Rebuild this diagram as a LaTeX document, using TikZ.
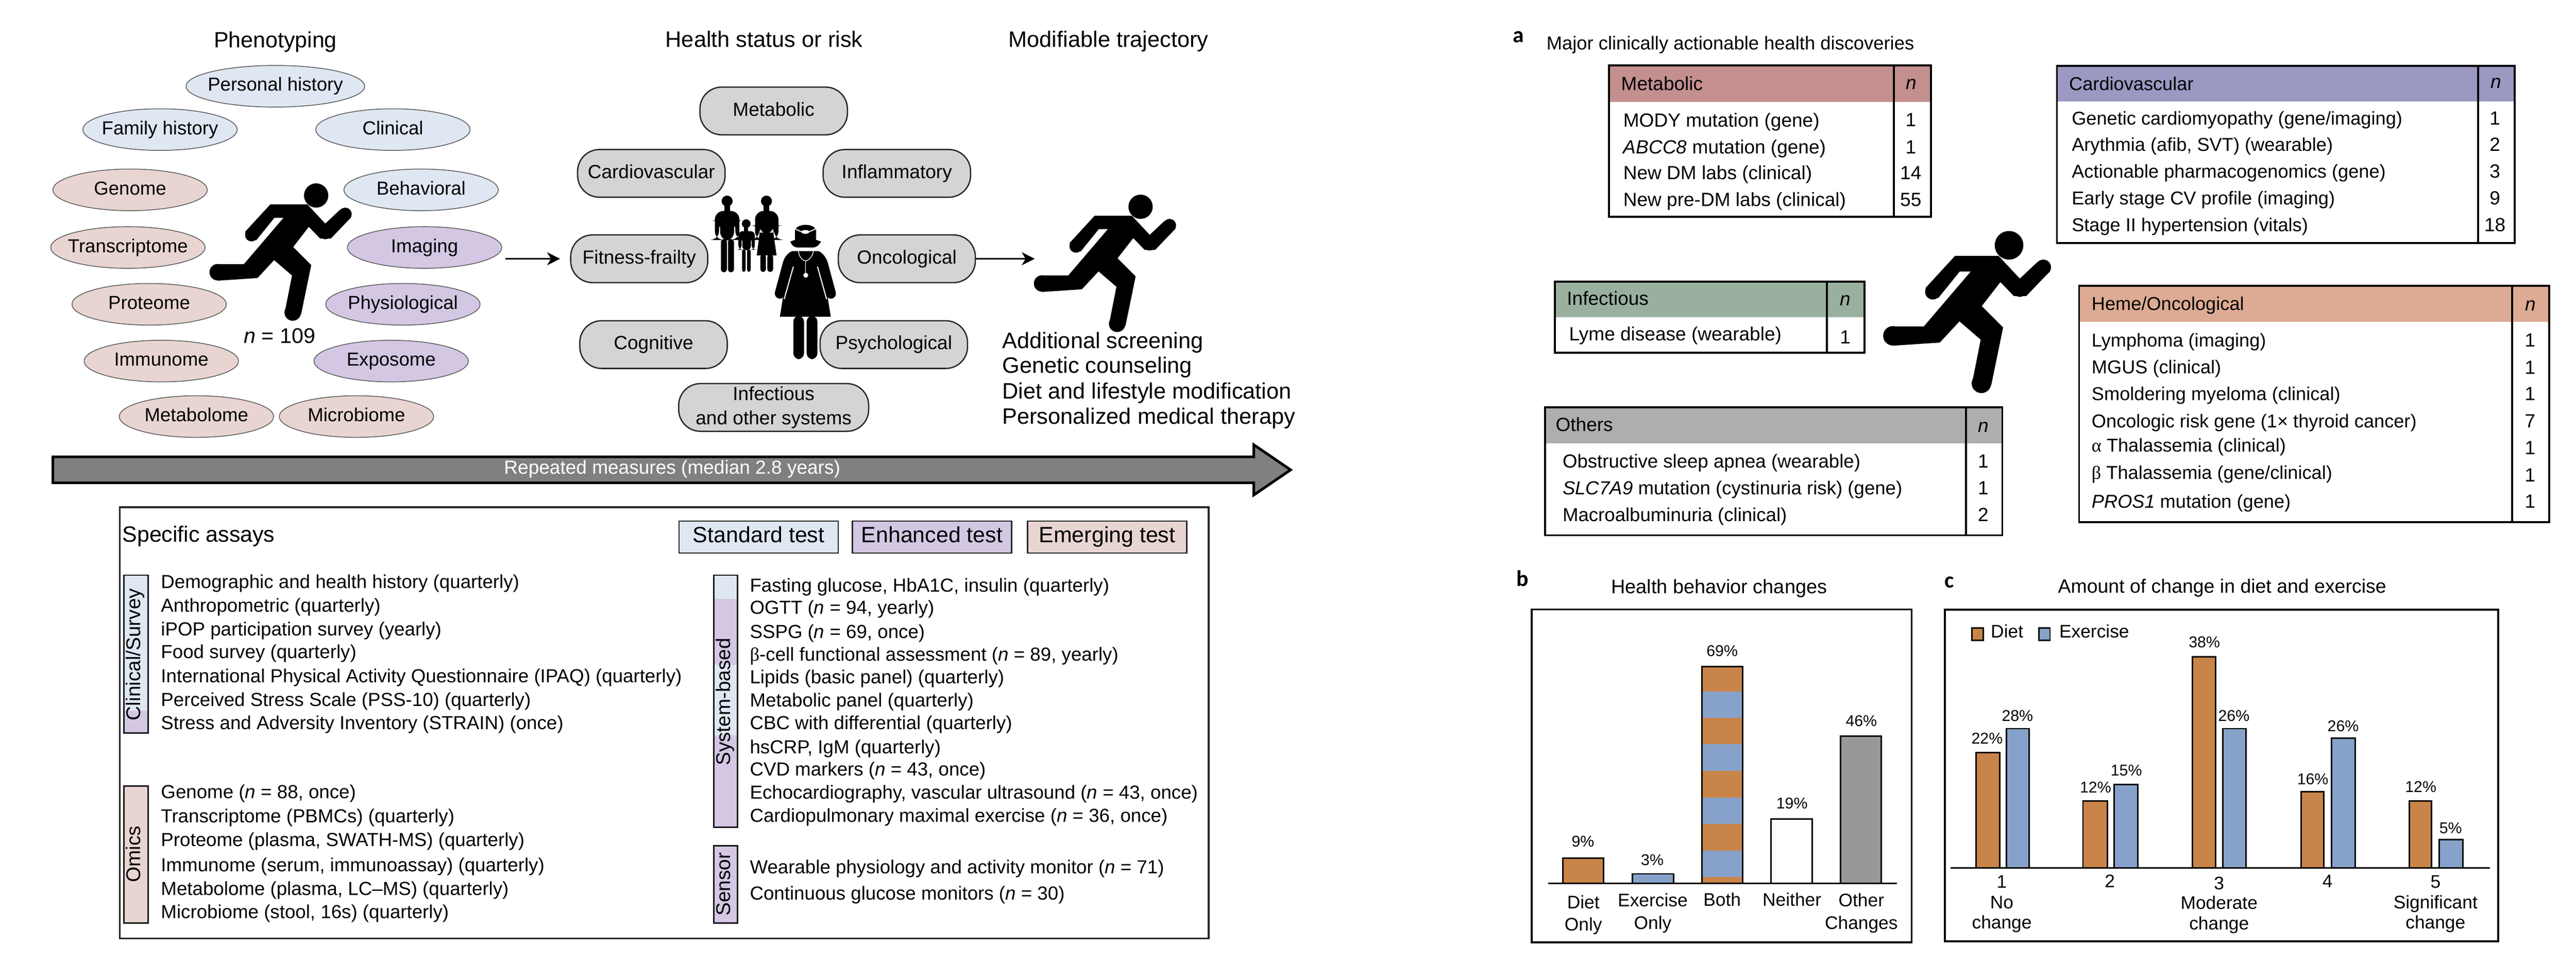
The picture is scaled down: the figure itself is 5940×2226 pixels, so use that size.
\documentclass[tikz,border=0pt]{standalone}
\usepackage{fontspec}
\setmainfont{Liberation Sans}
\newfontfamily\grkfont{Liberation Serif}
\newfontfamily\panelfont{Carlito}
\usetikzlibrary{shapes.geometric,arrows.meta}
\definecolor{stdc}{HTML}{DFE7F2}
\definecolor{enhc}{HTML}{D3C7E4}
\definecolor{emgc}{HTML}{E8D5D2}
\definecolor{rrc}{HTML}{D4D4D4}
\definecolor{ora}{HTML}{C98449}
\definecolor{blu}{HTML}{86A2CA}
\definecolor{gry}{HTML}{989898}
\definecolor{hmet}{HTML}{C48F8F}
\definecolor{hcar}{HTML}{9B98C2}
\definecolor{hinf}{HTML}{9AB09F}
\definecolor{hoth}{HTML}{AEAEAE}
\definecolor{hhem}{HTML}{DDAB93}
\tikzset{
  tx/.style={font=\fontsize{#1pt}{#1pt}\selectfont,inner sep=0pt,
    execute at begin node={\rule[-.21em]{0pt}{.93em}}},
  lft/.style={tx=#1,anchor=west},
  ell/.style={ellipse,draw=black!65,line width=1.8,inner sep=0pt,minimum width=356,minimum height=96,tx=43.5},
  rr/.style={rectangle,rounded corners=50,draw=black!85,fill=rrc,line width=3,inner sep=0pt,minimum width=340,minimum height=110,tx=44},
  legbox/.style={rectangle,draw=black!85,line width=3,inner sep=0pt,minimum width=367,minimum height=74,tx=51},
  barfr/.style={draw=black!90,line width=3.5},
  tline/.style={draw=black,line width=4.5},
  sm/.style={draw=black,line width=3.5},
  flow/.style={draw=black,line width=4,-{Stealth[length=30pt,width=30pt,inset=9pt]}},
  pl/.style={tx=52,font=\fontsize{52pt}{52pt}\selectfont\panelfont\bfseries}
}
\newcommand\et[1]{\makebox[0pt][c]{#1}}
\newcommand\myrunner[3]{%
  \begin{scope}[shift={(#1,#2)},scale=#3]
    \fill (729,451) circle (28);
    \filldraw[line width=3,line join=round]
      (624,473)--(708,473)--(750,518)--(785,485)--(808,501)--(762,549)--(739,549)--(712,521)--(674,570)
      --(716,612)--(693,724)--(658,721)--(675,635)--(632,598)--(593,640)--(502,646)--(502,611)--(563,611)
      --(657,501)--(632,501)--(590,553)--(567,535)--cycle;
    \fill (796,494) circle (15) (750,539) circle (13) (675,721) circle (19) (502,628) circle (19) (580,542) circle (15);
  \end{scope}}
\newcommand\mytable[7]{%
  \fill[#7] (#1,#2) rectangle (#3,#5);
  \draw[tline] (#1,#2) rectangle (#3,#4);
  \draw[tline] (#6,#2) -- (#6,#4);}
\begin{document}
\begin{tikzpicture}[x=1pt,y=-1pt]
\useasboundingbox (0,0) rectangle (5940,2226);

% ---------- headings
\node[tx=51] (hPhen) at (635,97) {Phenotyping};
\node[tx=51.5] (hHeal) at (1762,95) {Health status or risk};
\node[tx=51.5] (hMod) at (2556,96) {Modifiable trajectory};

% ---------- phenotyping ellipses
\node[ell,fill=stdc,minimum width=412] (ePers) at (635,199) {\et{Personal history}};
\node[ell,fill=stdc] (eFam) at (369,299) {\et{Family history}};
\node[ell,fill=stdc] (eClin) at (906,299) {\et{Clinical}};
\node[ell,fill=emgc] (eGen) at (300,438) {\et{Genome}};
\node[ell,fill=stdc] (eBeh) at (971,438) {\et{Behavioral}};
\node[ell,fill=emgc] (eTra) at (295,571) {\et{Transcriptome}};
\node[ell,fill=enhc] (eIma) at (979,571) {\et{Imaging}};
\node[ell,fill=emgc] (ePro) at (344,702) {\et{Proteome}};
\node[ell,fill=enhc] (ePhy) at (929,702) {\et{Physiological}};
\node[ell,fill=emgc] (eImm) at (372,833) {\et{Immunome}};
\node[ell,fill=enhc] (eExp) at (902,833) {\et{Exposome}};
\node[ell,fill=emgc] (eMet) at (453,961) {\et{Metabolome}};
\node[ell,fill=emgc] (eMic) at (822,961) {\et{Microbiome}};

\myrunner{0}{0}{1}
\node[tx=49] (nRun) at (645,779) {\textit{n} = 109};

% ---------- health status nodes
\node[rr] (rMet) at (1784,256) {Metabolic};
\node[rr] (rCar) at (1502,400) {Cardiovascular};
\node[rr] (rInf) at (2068,400) {Inflammatory};
\node[rr,minimum width=316] (rFit) at (1474,597) {Fitness-frailty};
\node[rr,minimum width=316] (rOnc) at (2091,597) {Oncological};
\node[rr] (rCog) at (1507,795) {Cognitive};
\node[rr] (rPsy) at (2061,795) {Psychological};
\node[rr,minimum width=438,align=center,font=\fontsize{44pt}{56pt}\selectfont] (rOth) at (1784,940) {Infectious\\and other systems};

% ---------- family
\begin{scope}[shift={(1630,440)},scale=.33333]
  % man
  \fill (140,72) circle (38);
  \fill (120,100) rectangle (160,145);
  \fill[rounded corners=20] (55,340)--(55,140)--(225,140)--(225,340)--(197,340)--(197,205)--(188,205)--(188,345)--(92,345)--(92,205)--(84,205)--(84,340)--cycle;
  \fill[rounded corners=6] (97,335) rectangle (138,564);
  \fill[rounded corners=6] (146,335) rectangle (187,564);
  % woman
  \fill (412,72) circle (38);
  \fill (392,100) rectangle (432,145);
  \fill[rounded corners=20] (333,340)--(333,140)--(495,140)--(495,340)--(467,340)--(467,240)--(460,240)--(460,300)--(365,300)--(365,240)--(360,240)--(360,340)--cycle;
  \fill (365,290)--(460,290)--(482,448)--(345,448)--cycle;
  \fill[rounded corners=6] (370,440) rectangle (408,562);
  \fill[rounded corners=6] (418,440) rectangle (458,562);
  % child
  \fill (272,228) circle (30);
  \fill (258,250) rectangle (286,285);
  \fill[rounded corners=10] (218,408)--(218,280)--(332,280)--(332,408)--(310,408)--(310,320)--(305,320)--(305,412)--(245,412)--(245,320)--(240,320)--(240,408)--cycle;
  \fill[rounded corners=5] (243,405) rectangle (268,562);
  \fill[rounded corners=5] (278,405) rectangle (303,562);
  % physician
  \fill (610,340)--(610,270) .. controls (630,225) and (735,225) .. (755,270)--(755,340)--(790,352) .. controls (770,385) and (750,393) .. (735,393)--(628,393) .. controls (610,393) and (590,385) .. (577,352)--cycle;
  \draw[white,line width=2.2] (610,265)--(680,295)--(752,265);
  \fill[white] (681,285) ellipse (28 and 13);
  \fill (590,418) .. controls (560,430) and (535,460) .. (525,500)--(470,705) .. controls (465,745) and (515,760) .. (527,735)--(505,872)--(857,872)--(835,735) .. controls (850,760) and (898,745) .. (892,705)--(837,500) .. controls (825,460) and (800,430) .. (772,418)--cycle;
  \draw[white,line width=2.5] (598,525)--(535,750);
  \draw[white,line width=2.5] (765,525)--(828,750);
  \fill[rounded corners=14] (598,865) rectangle (672,1166);
  \fill[rounded corners=14] (690,865) rectangle (765,1166);
  \draw[white,line width=1.6] (633,405) .. controls (630,450) and (660,485) .. (683,485) .. controls (705,485) and (738,450) .. (738,405);
  \draw[white,line width=1.6] (683,485)--(683,575);
  \fill[white] (684,585) circle (17);
\end{scope}

% ---------- flow arrows
\coordinate (aIn) at (1165,597);
\coordinate (aOut) at (2386,597);
\draw[flow,shorten >=23pt] (aIn) -- (rFit.west);
\draw[flow] (rOnc.east) -- (aOut);
\myrunner{1901}{26}{1}

\node[lft=51.5] (tAct1) at (2311,790) {Additional screening};
\node[lft=51.5] (tAct2) at (2311,848) {Genetic counseling};
\node[lft=51.5] (tAct3) at (2311,907) {Diet and lifestyle modification};
\node[lft=51.5] (tAct4) at (2311,965) {Personalized medical therapy};

% ---------- timeline bar
\filldraw[draw=black,fill=black!50,line width=6,miter limit=10]
  (122,1054)--(2891,1054)--(2891,1026)--(2976,1084)--(2891,1142)--(2891,1114)--(122,1114)--cycle;
\node[tx=44,text=white] (tBar) at (1550,1082) {Repeated measures (median 2.8 years)};

% ---------- assays box
\draw[draw=black!85,line width=4] (276,1170) rectangle (2787,2165);
\node[lft=51] (tAss) at (282,1237) {Specific assays};
\node[legbox,fill=stdc] (lStd) at (1749.5,1239) {Standard test};
\node[legbox,fill=enhc] (lEnh) at (2149,1239) {Enhanced test};
\node[legbox,fill=emgc] (lEme) at (2553,1239) {Emerging test};

% side bars
\fill[stdc] (286,1327) rectangle (341,1640);
\fill[enhc] (286,1640) rectangle (341,1691);
\draw[barfr] (286,1327) rectangle (341,1691);
\node[tx=46,rotate=90] (sCli) at (312,1510) {Clinical/Survey};
\draw[barfr,fill=emgc] (286,1814) rectangle (341,2129);
\node[tx=46,rotate=90] (sOmi) at (312,1971) {Omics};
\fill[enhc] (1646,1327) rectangle (1701,1909);
\fill[stdc] (1646,1327) rectangle (1701,1382);
\fill[stdc] (1646,1534) rectangle (1701,1697);
\draw[barfr] (1646,1327) rectangle (1701,1909);
\node[tx=46,rotate=90] (sSys) at (1672,1619) {System-based};
\draw[barfr,fill=enhc] (1646,1951) rectangle (1701,2129);
\node[tx=46,rotate=90] (sSen) at (1672,2040) {Sensor};

% assay rows
\foreach \y/\t [count=\i] in {
 1346/{Demographic and health history (quarterly)},
 1401/{Anthropometric (quarterly)},
 1455/{iPOP participation survey (yearly)},
 1508/{Food survey (quarterly)},
 1563/{International Physical Activity Questionnaire (IPAQ) (quarterly)},
 1618/{Perceived Stress Scale (PSS-10) (quarterly)},
 1672/{Stress and Adversity Inventory (STRAIN) (once)},
 1831/{Genome (\textit{n} = 88, once)},
 1886/{Transcriptome (PBMCs) (quarterly)},
 1941/{Proteome (plasma, SWATH-MS) (quarterly)},
 1999/{Immunome (serum, immunoassay) (quarterly)},
 2054/{Metabolome (plasma, LC--MS) (quarterly)},
 2108/{Microbiome (stool, 16s) (quarterly)}}
 \node[lft=43.6,name=asL\i] at (371,\y) {\t};
\foreach \y/\t [count=\i] in {
 1354/{Fasting glucose, HbA1C, insulin (quarterly)},
 1406/{OGTT (\textit{n} = 94, yearly)},
 1461/{SSPG (\textit{n} = 69, once)},
 1514/{{\grkfont β}-cell functional assessment (\textit{n} = 89, yearly)},
 1566/{Lipids (basic panel) (quarterly)},
 1619/{Metabolic panel (quarterly)},
 1672/{CBC with differential (quarterly)},
 1727/{hsCRP, IgM (quarterly)},
 1779/{CVD markers (\textit{n} = 43, once)},
 1832/{Echocardiography, vascular ultrasound (\textit{n} = 43, once)},
 1885/{Cardiopulmonary maximal exercise (\textit{n} = 36, once)},
 2004/{Wearable physiology and activity monitor (\textit{n} = 71)},
 2065/{Continuous glucose monitors (\textit{n} = 30)}}
 \node[lft=43.6,name=asR\i] at (1729,\y) {\t};

% ---------- panel a
\node[pl] (pa) at (3501,85) {a};
\node[lft=43.2] (ta) at (3566,103) {Major clinically actionable health discoveries};

\mytable{3710}{151}{4453}{500}{235}{4367}{hmet}
\node[lft=44] (mH) at (3738,197) {Metabolic};
\node[tx=44] (mN) at (4407,195) {\textit{n}};
\foreach \y/\t/\v [count=\i] in {
 281/{MODY mutation (gene)}/1,
 343/{\textit{ABCC8} mutation (gene)}/1,
 403/{New DM labs (clinical)}/14,
 465/{New pre-DM labs (clinical)}/55}
 {\node[lft=44,name=mR\i] at (3743,\y) {\t};
  \node[tx=44,name=mV\i] at (4406,\y) {\v};}

\mytable{4743}{152}{5799}{561}{234}{5714}{hcar}
\node[lft=43] (cH) at (4771,197) {Cardiovascular};
\node[tx=44] (cN) at (5755,193) {\textit{n}};
\foreach \y/\t/\v [count=\i] in {
 277/{Genetic cardiomyopathy (gene/imaging)}/1,
 338/{Arythmia (afib, SVT) (wearable)}/2,
 399/{Actionable pharmacogenomics (gene)}/3,
 461/{Early stage CV profile (imaging)}/9,
 523/{Stage II hypertension (vitals)}/18}
 {\node[lft=43,name=cR\i] at (4777,\y) {\t};
  \node[tx=44,name=cV\i] at (5753,\y) {\v};}

\mytable{3585}{650}{4299}{814}{732}{4213}{hinf}
\node[lft=44] (iH) at (3613,693) {Infectious};
\node[tx=44] (iN) at (4255,694) {\textit{n}};
\node[lft=44] (iR1) at (3618,775) {Lyme disease (wearable)};
\node[tx=44] (iV1) at (4255,782) {1};

\myrunner{3772.4}{33.7}{1.18}

\mytable{4794}{659}{5878}{1205}{742}{5793}{hhem}
\node[lft=43] (hH) at (4823,705) {Heme/Oncological};
\node[tx=44] (hN) at (5835,706) {\textit{n}};
\foreach \y/\t/\w/\v [count=\i] in {
 789/{Lymphoma (imaging)}/789/1,
 851/{MGUS (clinical)}/852/1,
 913/{Smoldering myeloma (clinical)}/913/1,
 975/{Oncologic risk gene (1× thyroid cancer)}/975/7,
 1031/{{\grkfont α} Thalassemia (clinical)}/1037/1,
 1094/{{\grkfont β} Thalassemia (gene/clinical)}/1100/1,
 1161/{\textit{PROS1} mutation (gene)}/1161/1}
 {\node[lft=43,name=hR\i] at (4823,\y) {\t};
  \node[tx=44,name=hV\i] at (5834,\w) {\v};}

\mytable{3563}{940}{4617}{1235}{1023}{4533}{hoth}
\node[lft=44] (oH) at (3587,984) {Others};
\node[tx=44] (oN) at (4573,986) {\textit{n}};
\foreach \y/\t/\v [count=\i] in {
 1068/{Obstructive sleep apnea (wearable)}/1,
 1130/{\textit{SLC7A9} mutation (cystinuria risk) (gene)}/1,
 1192/{Macroalbuminuria (clinical)}/2}
 {\node[lft=43.5,name=oR\i] at (3603,\y) {\t};
  \node[tx=44,name=oV\i] at (4573,\y) {\v};}

% ---------- panel b
\node[pl] (pb) at (3511,1339) {b};
\node[tx=45] (tb) at (3964,1357) {Health behavior changes};
\draw[tline] (3532,1406) rectangle (4408,2174);
\draw[sm,fill=ora] (3604,2038) rectangle (3698,1980);
\draw[sm,fill=blu] (3764,2038) rectangle (3859,2016);
\fill[ora] (3924,1538) rectangle (4018,2038);
\foreach \a/\b in {1596/1656,1717/1778,1840/1901,1962/2023}
  \fill[blu] (3924,\a) rectangle (4018,\b);
\draw[sm] (3924,2038) rectangle (4018,1538);
\draw[sm,fill=white] (4084,2038) rectangle (4179,1890);
\draw[sm,fill=gry] (4244,2038) rectangle (4338,1698);
\draw[sm] (3570,2038) -- (4374,2038);
\node[tx=36] (b1) at (3650,1945) {9\%};
\node[tx=36] (b2) at (3810,1987) {3\%};
\node[tx=36] (b3) at (3971,1505) {69\%};
\node[tx=36] (b4) at (4132,1857) {19\%};
\node[tx=36] (b5) at (4292,1667) {46\%};
\node[tx=42] (bl1a) at (3651,2085) {Diet};
\node[tx=42] (bl1b) at (3651,2137) {Only};
\node[tx=42] (bl2a) at (3811,2081) {Exercise};
\node[tx=42] (bl2b) at (3811,2133) {Only};
\node[tx=42] (bl3) at (3971,2079) {Both};
\node[tx=42] (bl4) at (4132,2079) {Neither};
\node[tx=42] (bl5a) at (4292,2081) {Other};
\node[tx=42] (bl5b) at (4292,2133) {Changes};

% ---------- panel c
\node[pl] (pc) at (4495,1343) {c};
\node[tx=44.5] (tc) at (5124,1357) {Amount of change in diet and exercise};
\draw[tline] (4485,1407) rectangle (5761,2172);
\draw[sm,fill=ora] (4547,1449) rectangle (4573,1477);
\node[tx=42] (lc1) at (4628,1461) {Diet};
\draw[sm,fill=blu] (4701,1449) rectangle (4727,1477);
\node[tx=42] (lc2) at (4829,1461) {Exercise};
\foreach \a/\b/\t/\c in {
 4556/4611/1736/ora, 4627/4679/1681/blu,
 4803/4859/1848/ora, 4875/4929/1810/blu,
 5056/5109/1515/ora, 5126/5179/1681/blu,
 5306/5358/1827/ora, 5376/5431/1703/blu,
 5556/5607/1848/ora, 5625/5679/1937/blu}
 \draw[sm,fill=\c] (\a,2002) rectangle (\b,\t);
\draw[sm] (4498,2002) -- (5742,2002);
\node[tx=36] (c1) at (4582,1707) {22\%};
\node[tx=36] (c2) at (4652,1655) {28\%};
\node[tx=36] (c3) at (4832,1820) {12\%};
\node[tx=36] (c4) at (4903,1780) {15\%};
\node[tx=36] (c5) at (5083,1485) {38\%};
\node[tx=36] (c6) at (5151,1655) {26\%};
\node[tx=36] (c7) at (5333,1801) {16\%};
\node[tx=36] (c8) at (5403,1678) {26\%};
\node[tx=36] (c9) at (5582,1819) {12\%};
\node[tx=36] (c10) at (5651,1913) {5\%};
\node[tx=42] (x1) at (4616,2038) {1};
\node[tx=42] (x1a) at (4616,2085) {No};
\node[tx=42] (x1b) at (4616,2132) {change};
\node[tx=42] (x2) at (4865,2037) {2};
\node[tx=42] (x3) at (5117,2041) {3};
\node[tx=42] (x3a) at (5117,2087) {Moderate};
\node[tx=42] (x3b) at (5117,2134) {change};
\node[tx=42] (x4) at (5367,2037) {4};
\node[tx=42] (x5) at (5616,2038) {5};
\node[tx=42] (x5a) at (5616,2085) {Significant};
\node[tx=42] (x5b) at (5616,2132) {change};
\end{tikzpicture}
\end{document}
